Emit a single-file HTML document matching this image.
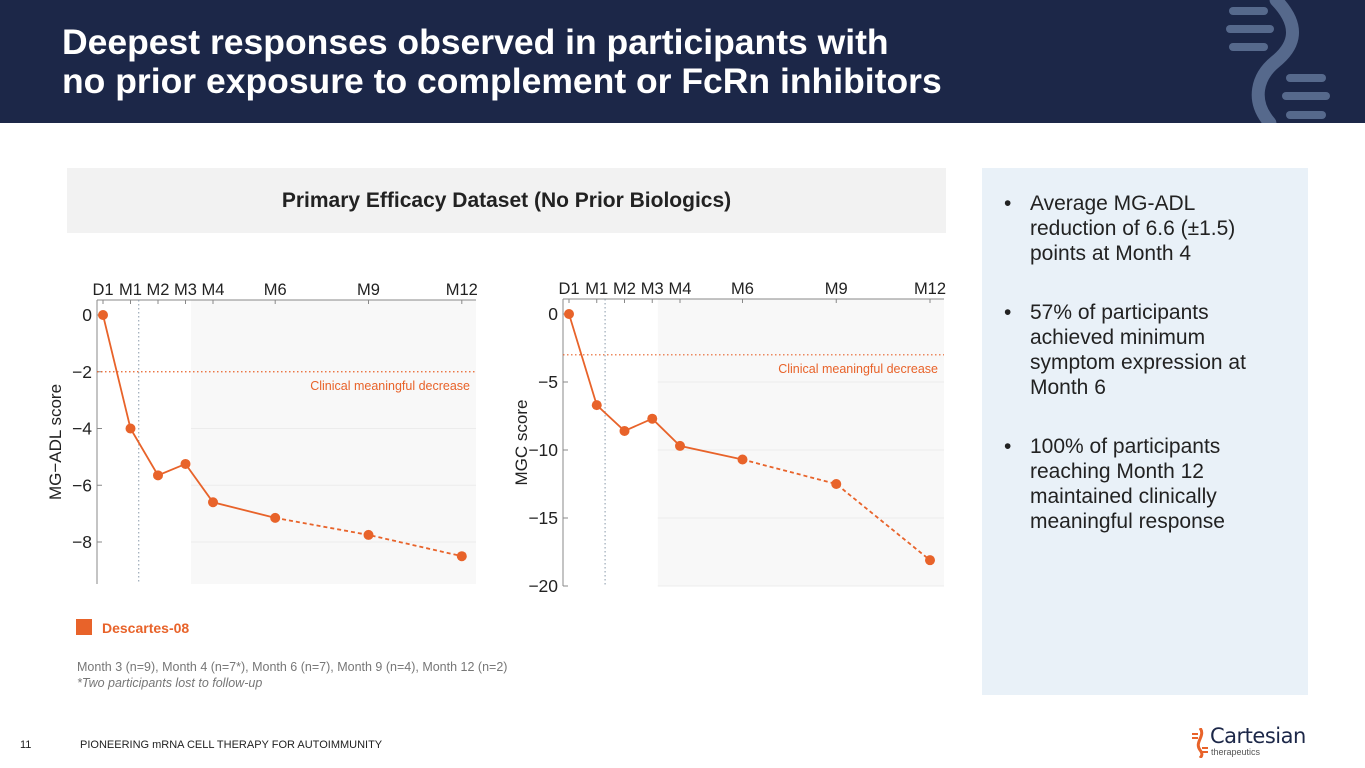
<!DOCTYPE html>
<html><head><meta charset="utf-8"><style>
body{margin:0;width:1365px;height:768px;position:relative;background:#fff;font-family:"Liberation Sans",Arial,sans-serif;overflow:hidden}
.hdr{position:absolute;left:0;top:0;width:1365px;height:123px;background:#1c2748}
.title{position:absolute;left:62px;top:23px;color:#fff;font-weight:bold;font-size:35.5px;line-height:39px}
.band{position:absolute;left:67px;top:168px;width:879px;height:65px;background:#f2f2f2;text-align:center;font-weight:bold;font-size:21px;line-height:65px;color:#222}
.side{position:absolute;left:982px;top:168px;width:326px;height:527px;background:#e9f1f8}
.side ul{margin:0;padding:0;list-style:none;position:absolute;left:22px;top:23px;width:270px;font-size:21px;line-height:25px;color:#222}
.side li{position:relative;padding-left:26px;margin-bottom:34px}
.side li:before{content:"•";position:absolute;left:0}
</style></head><body>
<div class="hdr">
<div class="title">Deepest responses observed in participants with<br>no prior exposure to complement or FcRn inhibitors</div>
<svg width="185" height="123" style="position:absolute;left:1180px;top:0">
<g stroke="#56698c" stroke-linecap="round" fill="none">
<path d="M96 0 C125 30,110 50,95 62 C78 76,70 100,90 123" stroke-width="13"/>
<line x1="53" y1="11" x2="84" y2="11" stroke-width="8"/><line x1="50" y1="29" x2="90" y2="29" stroke-width="8"/><line x1="53" y1="47" x2="84" y2="47" stroke-width="8"/>
<line x1="110" y1="78" x2="142" y2="78" stroke-width="8"/><line x1="106" y1="96" x2="146" y2="96" stroke-width="8"/><line x1="110" y1="115" x2="142" y2="115" stroke-width="8"/>
</g></svg>
</div>
<div class="band">Primary Efficacy Dataset (No Prior Biologics)</div>
<div class="side"><ul>
<li>Average MG-ADL reduction of 6.6 (±1.5) points at Month 4</li>
<li>57% of participants achieved minimum symptom expression at Month 6</li>
<li>100% of participants reaching Month 12 maintained clinically meaningful response</li>
</ul></div>
<svg id="charts" width="1365" height="768" style="position:absolute;left:0;top:0"></svg>
<div style="position:absolute;left:76px;top:619px;width:16px;height:16px;background:#e8632a"></div>
<div style="position:absolute;left:102px;top:620px;font-size:14px;font-weight:bold;color:#e8632a">Descartes-08</div>
<div style="position:absolute;left:77px;top:659px;font-size:12.5px;color:#777;line-height:16px">Month 3 (n=9), Month 4 (n=7*), Month 6 (n=7), Month 9 (n=4), Month 12 (n=2)<br><i>*Two participants lost to follow-up</i></div>
<div style="position:absolute;left:20px;top:739px;font-size:11px;color:#222">11</div>
<div style="position:absolute;left:80px;top:739px;font-size:11px;color:#222">PIONEERING mRNA CELL THERAPY FOR AUTOIMMUNITY</div>
<div style="position:absolute;left:1190px;top:726px;width:130px;height:36px">
<svg width="20" height="30" style="position:absolute;left:0;top:2px"><path d="M10 0 C16 8,4 14,10 22 C13 26,12 28,10 30" stroke="#e8632a" stroke-width="3" fill="none"/><g stroke="#e8632a" stroke-width="2"><line x1="2" y1="6" x2="8" y2="6"/><line x1="2" y1="10" x2="8" y2="10"/><line x1="12" y1="20" x2="18" y2="20"/><line x1="12" y1="24" x2="18" y2="24"/></g></svg>
<div style="position:absolute;left:20px;top:-2px;font-size:21px;color:#1c2748;font-family:'DejaVu Sans',sans-serif;letter-spacing:-0.5px">Cartesian</div>
<div style="position:absolute;left:21px;top:21px;font-size:9px;color:#555">therapeutics</div>
</div>
<script>
const monthLabels=["D1","M1","M2","M3","M4","M6","M9","M12"];
const months=[0,1,2,3,4,6,9,12];
const adlValues=[0,-4.0,-5.65,-5.25,-6.6,-7.15,-7.75,-8.5];
const mgcValues=[0,-6.7,-8.6,-7.7,-9.7,-10.7,-12.5,-18.1];
const adlTicks=[0,-2,-4,-6,-8];
const mgcTicks=[0,-5,-10,-15,-20];
const NS="http://www.w3.org/2000/svg";
const svg=document.getElementById('charts');
function mk(tag,attrs,parent){const e=document.createElementNS(NS,tag);for(const k in attrs)e.setAttribute(k,attrs[k]);(parent||svg).appendChild(e);return e;}
function draw(cfg,values,ticks){
  const xs=m=>m<=4?cfg.x0+m*cfg.s1:cfg.x0+4*cfg.s1+(m-4)*cfg.s2;
  const ys=v=>cfg.y0+(v-0)*(cfg.y1-cfg.y0)/(cfg.v1);
  const g=mk('g',{});
  
  
  const shade=mk('rect',{x:xs(3.2),y:cfg.top,width:cfg.right-xs(3.2),height:cfg.bottom-cfg.top,fill:'#f8f8f8'},g);
  
  
  ticks.forEach(t=>{if(t!==0&&t!==cfg.refVal){const gl=mk('line',{x1:xs(3.2),x2:cfg.right,y1:ys(t),y2:ys(t),stroke:'#ececec'},g);}});
  mk('line',{x1:cfg.left,x2:cfg.right,y1:cfg.top,y2:cfg.top,stroke:'#888'},g);
  mk('line',{x1:cfg.left,x2:cfg.left,y1:cfg.top,y2:cfg.bottom,stroke:'#888'},g);
  ticks.forEach(t=>{mk('line',{x1:cfg.left,x2:cfg.left+5,y1:ys(t),y2:ys(t),stroke:'#888'},g);
    const tl=mk('text',{x:cfg.left-5,y:ys(t)+6,'text-anchor':'end','font-size':17.5,fill:'#222'},g);tl.textContent=String(t).replace('-','\u2212');
    });
  months.forEach((m,i)=>{mk('line',{x1:xs(m),x2:xs(m),y1:cfg.top,y2:cfg.top+4,stroke:'#888'},g);
    const tl=mk('text',{x:xs(m),y:cfg.top-5,'text-anchor':'middle','font-size':16.5,fill:'#222'},g);tl.textContent=monthLabels[i];
    });
  mk('line',{x1:xs(1.3),x2:xs(1.3),y1:cfg.top,y2:cfg.bottom,stroke:'#8899aa','stroke-dasharray':'1.5 2.5'},g);
  mk('line',{x1:cfg.left,x2:cfg.right,y1:ys(cfg.refVal),y2:ys(cfg.refVal),stroke:'#e8632a','stroke-dasharray':'1.5 2.5','stroke-width':1.2},g);
  const rl=mk('text',{x:cfg.right-6,y:ys(cfg.refVal)+18,'text-anchor':'end','font-size':12.5,fill:'#e8632a'},g);rl.textContent='Clinical meaningful decrease';
  
  const at=mk('text',{transform:`translate(${cfg.left-36},${(cfg.top+cfg.bottom)/2}) rotate(-90)`,'text-anchor':'middle','font-size':17,fill:'#222'},g);at.textContent=cfg.title;
  
  let solid='',dash='';
  months.forEach((m,i)=>{const p=xs(m)+','+ys(values[i]);if(m<=6)solid+=(solid?' ':'')+p;if(m>=6)dash+=(dash?' ':'')+p;});
  const l1=mk('polyline',{points:solid,fill:'none',stroke:'#e8632a','stroke-width':1.8},g);
  
  const l2=mk('polyline',{points:dash,fill:'none',stroke:'#e8632a','stroke-width':1.8,'stroke-dasharray':'4 3'},g);
  
  months.forEach((m,i)=>{const c=mk('circle',{cx:xs(m),cy:ys(values[i]),r:5,fill:'#e8632a'},g);
    });
}
draw({name:'mg-adl-chart',x0:103,s1:27.5,s2:31.1,y0:315,y1:542,v1:-8,left:97,right:476,top:300,bottom:584,refVal:-2,title:'MG\u2212ADL score'},adlValues,adlTicks);
draw({name:'mgc-chart',x0:569,s1:27.75,s2:31.25,y0:314,y1:586,v1:-20,left:563,right:944,top:299,bottom:586,refVal:-3,title:'MGC score'},mgcValues,mgcTicks);
</script>
</body></html>
